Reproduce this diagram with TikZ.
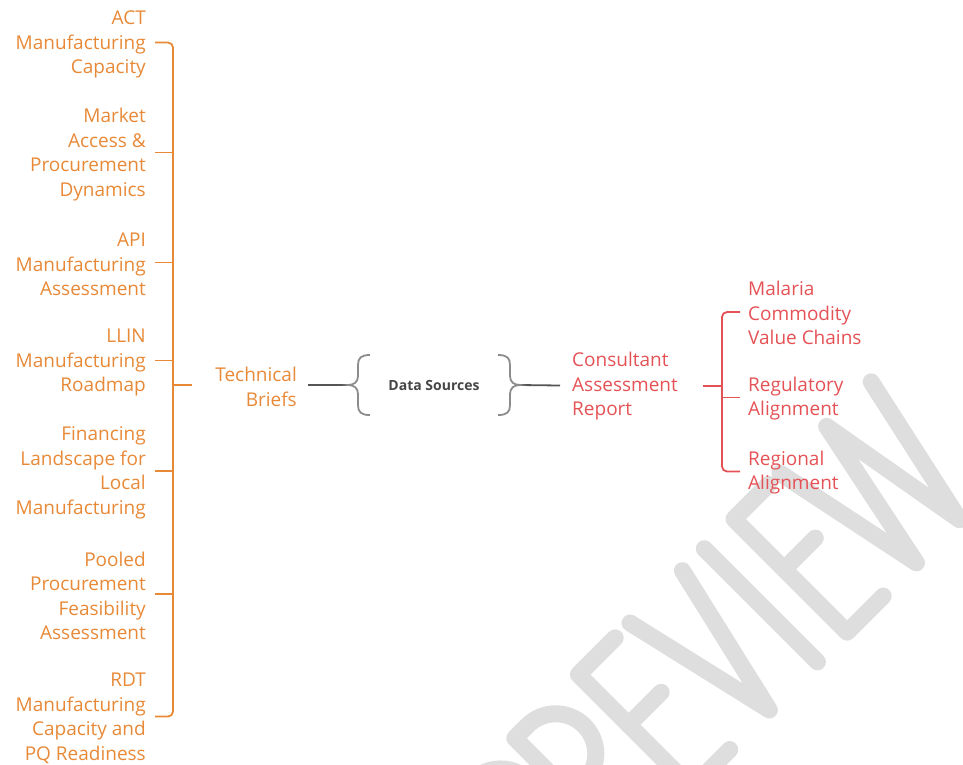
\documentclass[tikz,border=0pt]{standalone}
\usepackage{fontspec}
\setmainfont{Open Sans}
\definecolor{orng}{RGB}{232,137,55}
\definecolor{rd}{RGB}{229,82,86}
\definecolor{bracegray}{RGB}{140,140,140}
\definecolor{linegray}{RGB}{85,85,85}
\definecolor{dsgray}{RGB}{70,70,70}
\definecolor{wmgray}{RGB}{222,222,222}
\tikzset{
  lt/.style={font=\fontsize{19}{24.5}\selectfont, text=orng, align=right, anchor=east, inner sep=0pt, yshift=-2pt},
  rt/.style={font=\fontsize{19}{24.5}\selectfont, text=rd, align=left, anchor=west, inner sep=0pt, yshift=-1pt},
  oline/.style={draw=orng, line width=1.8pt},
  rline/.style={draw=rd, line width=1.8pt},
  gline/.style={draw=linegray, line width=1.8pt},
  bracestroke/.style={draw=bracegray, line width=1.8pt},
  wmstroke/.style={draw=wmgray, line width=17pt, line cap=round, line join=round},
}
\begin{document}
\begin{tikzpicture}[x=1pt,y=1pt]
\useasboundingbox (0,0) rectangle (963,-764);
% watermark
\begin{scope}
\clip (0,0) rectangle (963,-764);
\begin{scope}[rotate=45]
\draw[wmstroke] (-236,-1046) -- (-236,-886) -- (-218,-886) arc[start angle=90,end angle=-90,radius=40] -- (-236,-966);
\draw[wmstroke] (-158,-1046) -- (-158,-886) -- (-140,-886) arc[start angle=90,end angle=-90,radius=40] -- (-158,-966);
\draw[wmstroke] (-138,-966) -- (-104,-1046);
\draw[wmstroke] (-16,-886) -- (-68,-886) -- (-68,-1046) -- (-14,-1046);
\draw[wmstroke] (-68,-957) -- (-22,-957);
\draw[wmstroke] (5,-886) -- (42,-1046) -- (79,-886);
\draw[wmstroke] (110,-886) -- (110,-1046);
\draw[wmstroke] (201,-886) -- (152,-886) -- (152,-1046) -- (203,-1046);
\draw[wmstroke] (152,-957) -- (196,-957);
\draw[wmstroke] (217,-886) -- (250,-1046) -- (283,-886) -- (311,-1046) -- (346,-886);
\end{scope}
\end{scope}
% left column
\node[lt] (a1) at (146,-42.5) {ACT\\Manufacturing\\Capacity};
\node[lt] (a2) at (146,-152.5) {Market\\Access \&\\Procurement\\Dynamics};
\node[lt] (a3) at (146,-262.5) {API\\Manufacturing\\Assessment};
\node[lt] (a4) at (146,-360.5) {LLIN\\Manufacturing\\Roadmap};
\node[lt] (a5) at (146,-471) {Financing\\Landscape for\\Local\\Manufacturing};
\node[lt] (a6) at (146,-594) {Pooled\\Procurement\\Feasibility\\Assessment};
\node[lt] (a7) at (146,-716.5) {RDT\\Manufacturing\\Capacity and\\PQ Readiness};
\node[lt] (tb) at (297,-385) {Technical\\Briefs};
\node[font=\bfseries\fontsize{14}{17}\selectfont, text=dsgray, inner sep=0pt] (ds) at (434,-385) {Data Sources};
\node[rt] (car) at (572,-385.5) {Consultant\\Assessment\\Report};
\node[rt] (m1) at (748,-312) {Malaria\\Commodity\\Value Chains};
\node[rt] (m2) at (748,-397.5) {Regulatory\\Alignment};
\node[rt] (m3) at (748,-471.5) {Regional\\Alignment};
% connector points
\foreach \n in {a1,a2,a3,a4,a5,a6,a7,tb}{\coordinate (\n c) at ([yshift=2pt]\n.east);}
\foreach \n in {car,m1,m2,m3}{\coordinate (\n c) at ([yshift=1pt]\n.west);}
\coordinate (lx) at (173,0);
\coordinate (tbin) at (192,-385);
\coordinate (lbt) at (348,-385);
\coordinate (rbt) at (520,-385);
\coordinate (rx) at (722,0);
\coordinate (cre) at (703,-386);
% orange bracket
\draw[oline, rounded corners=5pt] ([xshift=9pt]a1c) -| (lx |- a7c) -- ([xshift=9pt]a7c);
\foreach \n in {a2,a3,a4,a5,a6}{\draw[oline] ([xshift=9pt]\n c) -- (lx |- \n c);}
\draw[oline] (lx |- tbin) -- (tbin);
% gray
\draw[gline] ([xshift=11pt]tbc) -- (lbt);
\draw[gline] (rbt) -- ([xshift=-12pt]carc);
\draw[bracestroke, shift={(lbt)}] (22,30) .. controls (13,30) and (10,27) .. (10,20) -- (10,9) .. controls (10,3) and (6,0) .. (0,0) .. controls (6,0) and (10,-3) .. (10,-9) -- (10,-20) .. controls (10,-27) and (13,-30) .. (22,-30);
\draw[bracestroke, shift={(rbt)}] (-22,30) .. controls (-13,30) and (-10,27) .. (-10,20) -- (-10,9) .. controls (-10,3) and (-6,0) .. (0,0) .. controls (-6,0) and (-10,-3) .. (-10,-9) -- (-10,-20) .. controls (-10,-27) and (-13,-30) .. (-22,-30);
% red bracket
\draw[rline] (cre) -- (rx |- cre);
\draw[rline, rounded corners=5pt] ([xshift=-8pt]m1c) -| (rx |- m3c) -- ([xshift=-8pt]m3c);
\draw[rline] ([xshift=-8pt]m2c) -- (rx |- m2c);
\end{tikzpicture}
\end{document}
